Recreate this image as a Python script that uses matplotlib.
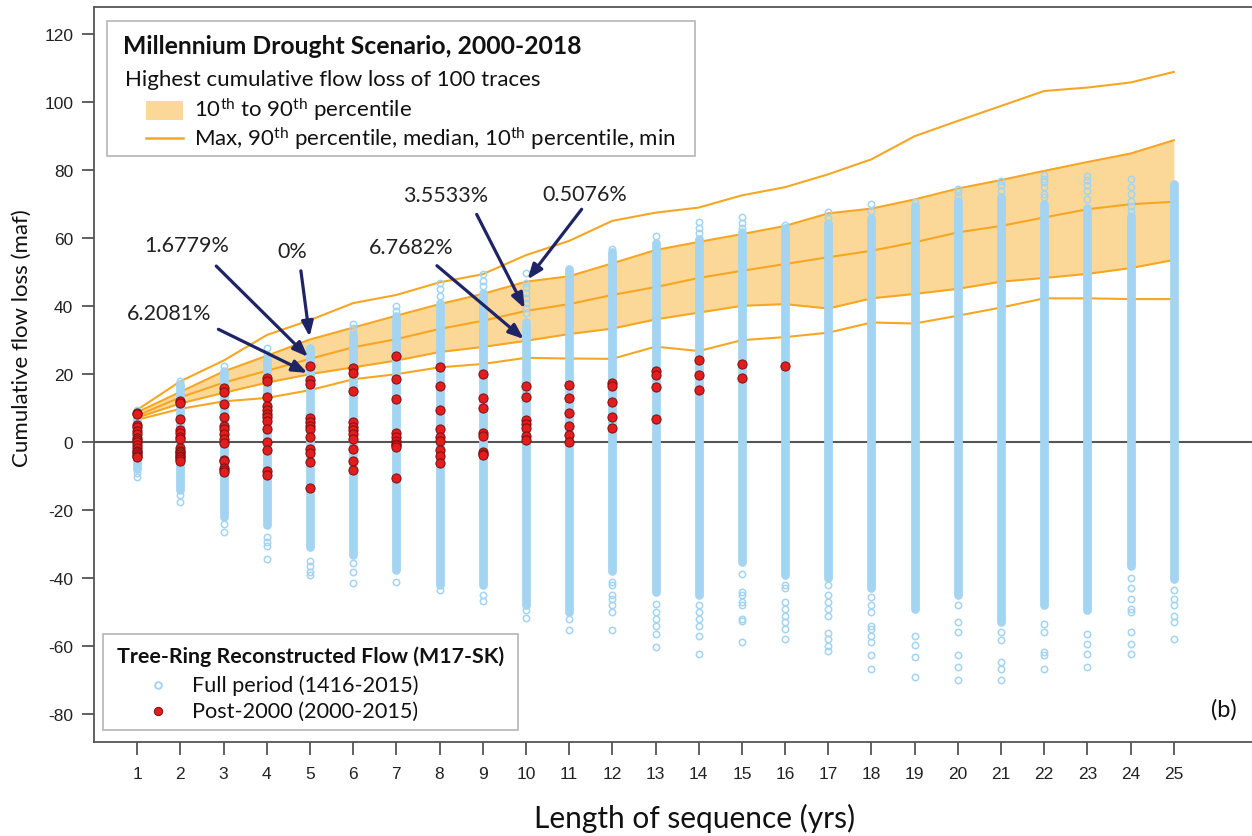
import matplotlib
matplotlib.use("Agg")
import matplotlib.pyplot as plt
from matplotlib.patches import Rectangle
from matplotlib.lines import Line2D
import numpy as np

plt.rcParams["mathtext.fontset"] = "custom"
plt.rcParams["mathtext.rm"] = "Lato"
plt.rcParams["mathtext.it"] = "Lato:italic"
plt.rcParams["mathtext.bf"] = "Lato:bold"
plt.rcParams["axes.unicode_minus"] = False

# ---- Millennium Drought scenario statistics (highest cumulative flow loss of 100 traces)
seq_len = list(range(1, 26))
stat_max = [9.5, 17.9, 24.0, 31.5, 35.9, 40.9, 43.3, 47.0, 49.4, 55.0,
            59.2, 65.1, 67.5, 69.0, 72.6, 75.0, 78.8, 83.2, 90.0, 94.5,
            98.9, 103.3, 104.3, 105.8, 108.9]
stat_p90 = [8.8, 14.8, 20.8, 25.4, 30.2, 33.7, 37.2, 40.6, 43.6, 47.2,
            48.8, 52.6, 56.5, 58.9, 61.2, 63.6, 67.3, 68.7, 71.4, 74.6,
            77.1, 79.8, 82.4, 84.9, 88.8]
stat_med = [7.8, 13.2, 17.5, 21.0, 24.5, 27.9, 30.3, 33.3, 35.7, 38.6,
            40.6, 43.3, 45.6, 48.3, 50.4, 52.4, 54.4, 56.3, 58.8, 61.7,
            63.6, 66.1, 68.5, 70.0, 70.7]
stat_p10 = [7.2, 11.4, 14.5, 17.5, 20.0, 22.0, 24.0, 26.5, 28.0, 29.8,
            31.8, 33.4, 36.1, 38.1, 40.1, 40.6, 39.3, 42.3, 43.6, 45.1,
            47.2, 48.3, 49.5, 51.2, 53.6]
stat_min = [6.6, 9.8, 12.0, 13.0, 15.3, 18.5, 20.0, 22.0, 23.0, 24.8,
            24.6, 24.5, 28.1, 26.8, 30.0, 30.9, 32.2, 35.2, 34.9, 37.2,
            39.6, 42.3, 42.3, 42.1, 42.1]

# ---- Tree-ring reconstruction (1416-2015): densely packed range per length
full_dense_lo = [-8.0, -14.0, -22.0, -24.5, -30.9, -33.3, -37.7, -42.0, -42.0, -48.0,
                 -50.0, -38.0, -44.0, -45.0, -35.3, -39.0, -40.0, -43.0, -49.0, -45.0,
                 -53.0, -48.0, -49.5, -36.3, -40.2]
full_dense_hi = [9.0, 17.0, 21.0, 24.5, 27.8, 31.4, 37.0, 41.0, 44.0, 35.2,
                 50.9, 55.8, 58.5, 59.7, 61.7, 63.0, 64.5, 66.0, 69.5, 71.0,
                 72.0, 70.0, 69.0, 66.5, 75.9]
# isolated sequences outside the dense range
full_sparse = [
    [9.6, -9.0, -10.3],
    [18.0, -15.5, -17.6],
    [22.5, -24.0, -26.3],
    [26.0, 27.8, -28.0, -29.4, -30.4, -34.5],
    [-35.1, -36.3, -38.2, -39.2],
    [32.5, 33.5, 34.8, -35.5, -38.2, -41.4],
    [38.5, 40.1, -41.2],
    [43.0, 45.0, 46.9, -43.6],
    [46.0, 47.5, 49.4, -45.1, -46.6],
    [38.0, 39.5, 41.0, 42.5, 44.0, 45.5, 46.8, 49.9, -49.5, -51.8],
    [-51.9, -55.4],
    [56.9, -41.0, -42.0, -45.0, -46.0, -48.0, -50.0, -55.4],
    [60.7, -47.5, -50.0, -52.0, -54.0, -56.4, -60.3],
    [61.5, 63.0, 64.8, -48.0, -50.0, -52.0, -54.0, -56.9, -62.3],
    [63.0, 64.5, 66.1, -38.7, -44.1, -45.1, -47.1, -48.0, -52.0, -52.5, -58.8],
    [63.8, -42.0, -43.0, -47.0, -49.0, -51.0, -53.0, -55.0, -57.8],
    [66.0, 67.7, -42.0, -45.0, -47.0, -49.0, -51.0, -56.0, -58.0, -60.0, -61.3],
    [68.0, 70.0, -45.6, -48.0, -50.0, -54.0, -55.0, -57.0, -58.8, -62.7, -66.7],
    [70.5, -56.9, -59.8, -63.2, -69.1],
    [72.0, 73.5, 74.6, -48.0, -53.0, -55.9, -62.7, -66.2, -70.1],
    [74.0, 75.5, 76.9, -55.9, -58.3, -64.7, -66.7, -70.1],
    [72.0, 73.0, 75.0, 76.5, 77.5, 78.5, -53.4, -55.9, -61.8, -62.7, -66.7],
    [71.5, 74.0, 75.5, 77.0, 78.3, -56.4, -59.3, -62.2, -66.2],
    [68.0, 69.5, 71.0, 73.0, 75.0, 77.3, -40.0, -43.0, -46.0, -49.0, -50.0, -55.9, -59.3, -62.3],
    [-43.6, -46.0, -48.0, -51.0, -53.0, -57.8],
]

# ---- Post-2000 sequences (2000-2015)
post2000 = [
    [8.7, 8.2, 5.0, 4.4, 3.4, 2.4, 1.2, 0.7, -0.1, -0.9, -1.7, -2.6, -3.0, -3.5, -4.0, -4.5],
    [12.2, 11.5, 6.7, 3.6, 2.8, 1.6, 1.0, -1.6, -2.6, -3.0, -3.5, -4.0, -4.5, -5.0, -5.5],
    [15.8, 14.8, 11.2, 7.3, 4.8, 3.8, 2.4, 1.0, -0.3, -5.2, -5.5, -7.7, -8.3, -8.9],
    [19.0, 18.0, 13.4, 10.5, 9.5, 8.4, 7.3, 6.3, 3.8, -0.1, -2.3, -8.4, -9.7],
    [22.5, 18.3, 17.1, 7.0, 6.0, 4.8, 3.8, 1.6, -1.9, -3.1, -5.8, -13.4],
    [21.9, 20.3, 15.1, 6.0, 4.6, 3.6, 2.4, 1.0, -1.9, -5.5, -8.2],
    [25.4, 18.5, 12.8, 2.6, 1.4, 0.4, -0.4, -0.9, -1.4, -10.4],
    [22.0, 16.6, 9.5, 4.0, 1.4, 0.4, -2.2, -4.0, -6.2],
    [20.0, 12.9, 9.9, 2.8, 1.9, -3.0, -3.4, -3.8],
    [16.4, 13.4, 6.5, 5.3, 4.3, 1.9, 0.7],
    [16.8, 12.9, 8.7, 4.8, 2.0, -0.1],
    [17.5, 16.6, 11.9, 7.3, 4.1],
    [21.0, 19.7, 16.1, 6.8],
    [24.2, 19.7, 15.4],
    [23.1, 18.8],
    [22.3],
]

# ---- probability labels attached to scenario statistics
notes = [
    ("6.2081%", 5, stat_p10, (1.75, 37.9), (2.88, 33.2)),
    ("1.6779%", 5, stat_med, (2.15, 57.9), (2.83, 51.8)),
    ("0%", 5, stat_p90, (4.60, 56.3), (4.79, 50.4)),
    ("6.7682%", 10, stat_p10, (7.34, 57.5), (7.94, 51.9)),
    ("3.5533%", 10, stat_med, (8.14, 72.7), (8.86, 67.0)),
    ("0.5076%", 10, stat_p90, (11.37, 72.9), (11.29, 68.5)),
]

ORANGE = "#f6a623"
BAND = "#fcd898"
BLUE = "#a3d4f1"
RED = "#e11d1d"
NAVY = "#1f2466"
GREY = "#555555"

W, H = 1252, 837
fig = plt.figure(figsize=(W / 100, H / 100), dpi=100)
ax = fig.add_axes([94 / W, 1 - 743 / H, 1 - 94 / W, (743 - 8) / H])

x = np.array(seq_len)
ax.fill_between(x, stat_p10, stat_p90, color=BAND, lw=0, zorder=1)
for s in (stat_max, stat_p90, stat_med, stat_p10, stat_min):
    ax.plot(x, s, color=ORANGE, lw=1.5, zorder=2)

ax.vlines(x, full_dense_lo, full_dense_hi, color=BLUE, lw=6.3,
          capstyle="round", zorder=3)
for xi, pts in zip(seq_len, full_sparse):
    ax.plot([xi] * len(pts), pts, ls="none", marker="o", ms=4.6,
            mfc="none", mec=BLUE, mew=1.1, zorder=3)

for xi, pts in enumerate(post2000, start=1):
    ax.plot([xi] * len(pts), pts, ls="none", marker="o", ms=6.6,
            mfc=RED, mec="#7a1010", mew=0.7, zorder=4)

ax.axhline(0, color=GREY, lw=1.5, zorder=2.5)

for label, xi, series, txt_xy, tail_xy in notes:
    head = (xi, series[xi - 1])
    ax.annotate("", xy=head, xytext=tail_xy,
                arrowprops=dict(arrowstyle="-|>,head_length=0.9,head_width=0.35",
                                color=NAVY, lw=2.3, shrinkA=0, shrinkB=2),
                zorder=6)
    ax.text(*txt_xy, label, ha="center", va="center", fontsize=15.5,
            family="Lato", color="#222222", zorder=6)

ax.set_xlim(0.0, 26.81)
ax.set_ylim(-88.2, 128)
ax.set_xticks(seq_len)
ax.set_yticks(np.arange(-80, 121, 20))
for sp in ax.spines.values():
    sp.set_color(GREY)
    sp.set_linewidth(1.3)
ax.spines["right"].set_visible(False)
ax.tick_params(direction="out", length=9, width=1.3, color=GREY,
               labelsize=12.5, labelcolor="#222222")
ax.tick_params(axis="x", pad=8)
ax.tick_params(axis="y", pad=6)
for lab in ax.get_xticklabels() + ax.get_yticklabels():
    lab.set_family("Liberation Sans")

fig.text(22 / W, 1 - 338 / H, "Cumulative flow loss (maf)", rotation=90,
         ha="center", va="center", fontsize=16, family="Lato", color="#111111")
fig.text(695 / W, 1 - 818 / H, "Length of sequence (yrs)", ha="center",
         va="center", fontsize=21.5, family="Lato", color="#111111")
ax.text(1224 / W, 1 - 710 / H, "(b)", transform=fig.transFigure, ha="center",
        va="center", fontsize=17, family="Lato", color="#111111")


def P(px, py):
    return (px / W, 1 - py / H)


# scenario legend
fig.patches.append(Rectangle(P(107, 157), 588 / W, 135 / H, transform=fig.transFigure,
                             facecolor="white", edgecolor="#b5b5b5", lw=1.2, zorder=10))
fig.text(*P(123, 46), "Millennium Drought Scenario, 2000-2018", ha="left", va="center",
         fontsize=17.8, fontweight="bold", family="Lato", color="#111111", zorder=11)
fig.text(*P(125, 80), "Highest cumulative flow loss of 100 traces", ha="left",
         va="center", fontsize=16, family="Lato", color="#111111", zorder=11)
fig.patches.append(Rectangle(P(146, 121), 37 / W, 19 / H, transform=fig.transFigure,
                             facecolor=BAND, edgecolor="none", zorder=11))
fig.text(*P(194, 110), r"10$^{\mathrm{th}}$ to 90$^{\mathrm{th}}$ percentile", ha="left",
         va="center", fontsize=16, family="Lato", color="#111111", zorder=11)
fig.lines.append(Line2D([146 / W, 183 / W], [1 - 139 / H, 1 - 139 / H],
                        transform=fig.transFigure, color=ORANGE, lw=1.8, zorder=11))
fig.text(*P(194, 139),
         r"Max, 90$^{\mathrm{th}}$ percentile, median, 10$^{\mathrm{th}}$ percentile, min",
         ha="left", va="center", fontsize=16, family="Lato", color="#111111", zorder=11)

# tree-ring legend
fig.patches.append(Rectangle(P(103, 731), 415 / W, 96 / H, transform=fig.transFigure,
                             facecolor="white", edgecolor="#b5b5b5", lw=1.2, zorder=10))
fig.text(*P(117, 657), "Tree-Ring Reconstructed Flow (M17-SK)", ha="left", va="center",
         fontsize=15.4, fontweight="bold", family="Lato", color="#111111", zorder=11)
fig.lines.append(Line2D([158 / W], [1 - 686 / H], transform=fig.transFigure, ls="none",
                        marker="o", ms=4.8, mfc="none", mec=BLUE, mew=1.4, zorder=11))
fig.text(*P(192, 686), "Full period (1416-2015)", ha="left", va="center",
         fontsize=15.6, family="Lato", color="#111111", zorder=11)
fig.lines.append(Line2D([158 / W], [1 - 712 / H], transform=fig.transFigure, ls="none",
                        marker="o", ms=6.0, mfc=RED, mec="#7a1010", mew=0.7, zorder=11))
fig.text(*P(192, 712), "Post-2000 (2000-2015)", ha="left", va="center",
         fontsize=15.6, family="Lato", color="#111111", zorder=11)

fig.savefig("out.png", dpi=100, facecolor="white")
